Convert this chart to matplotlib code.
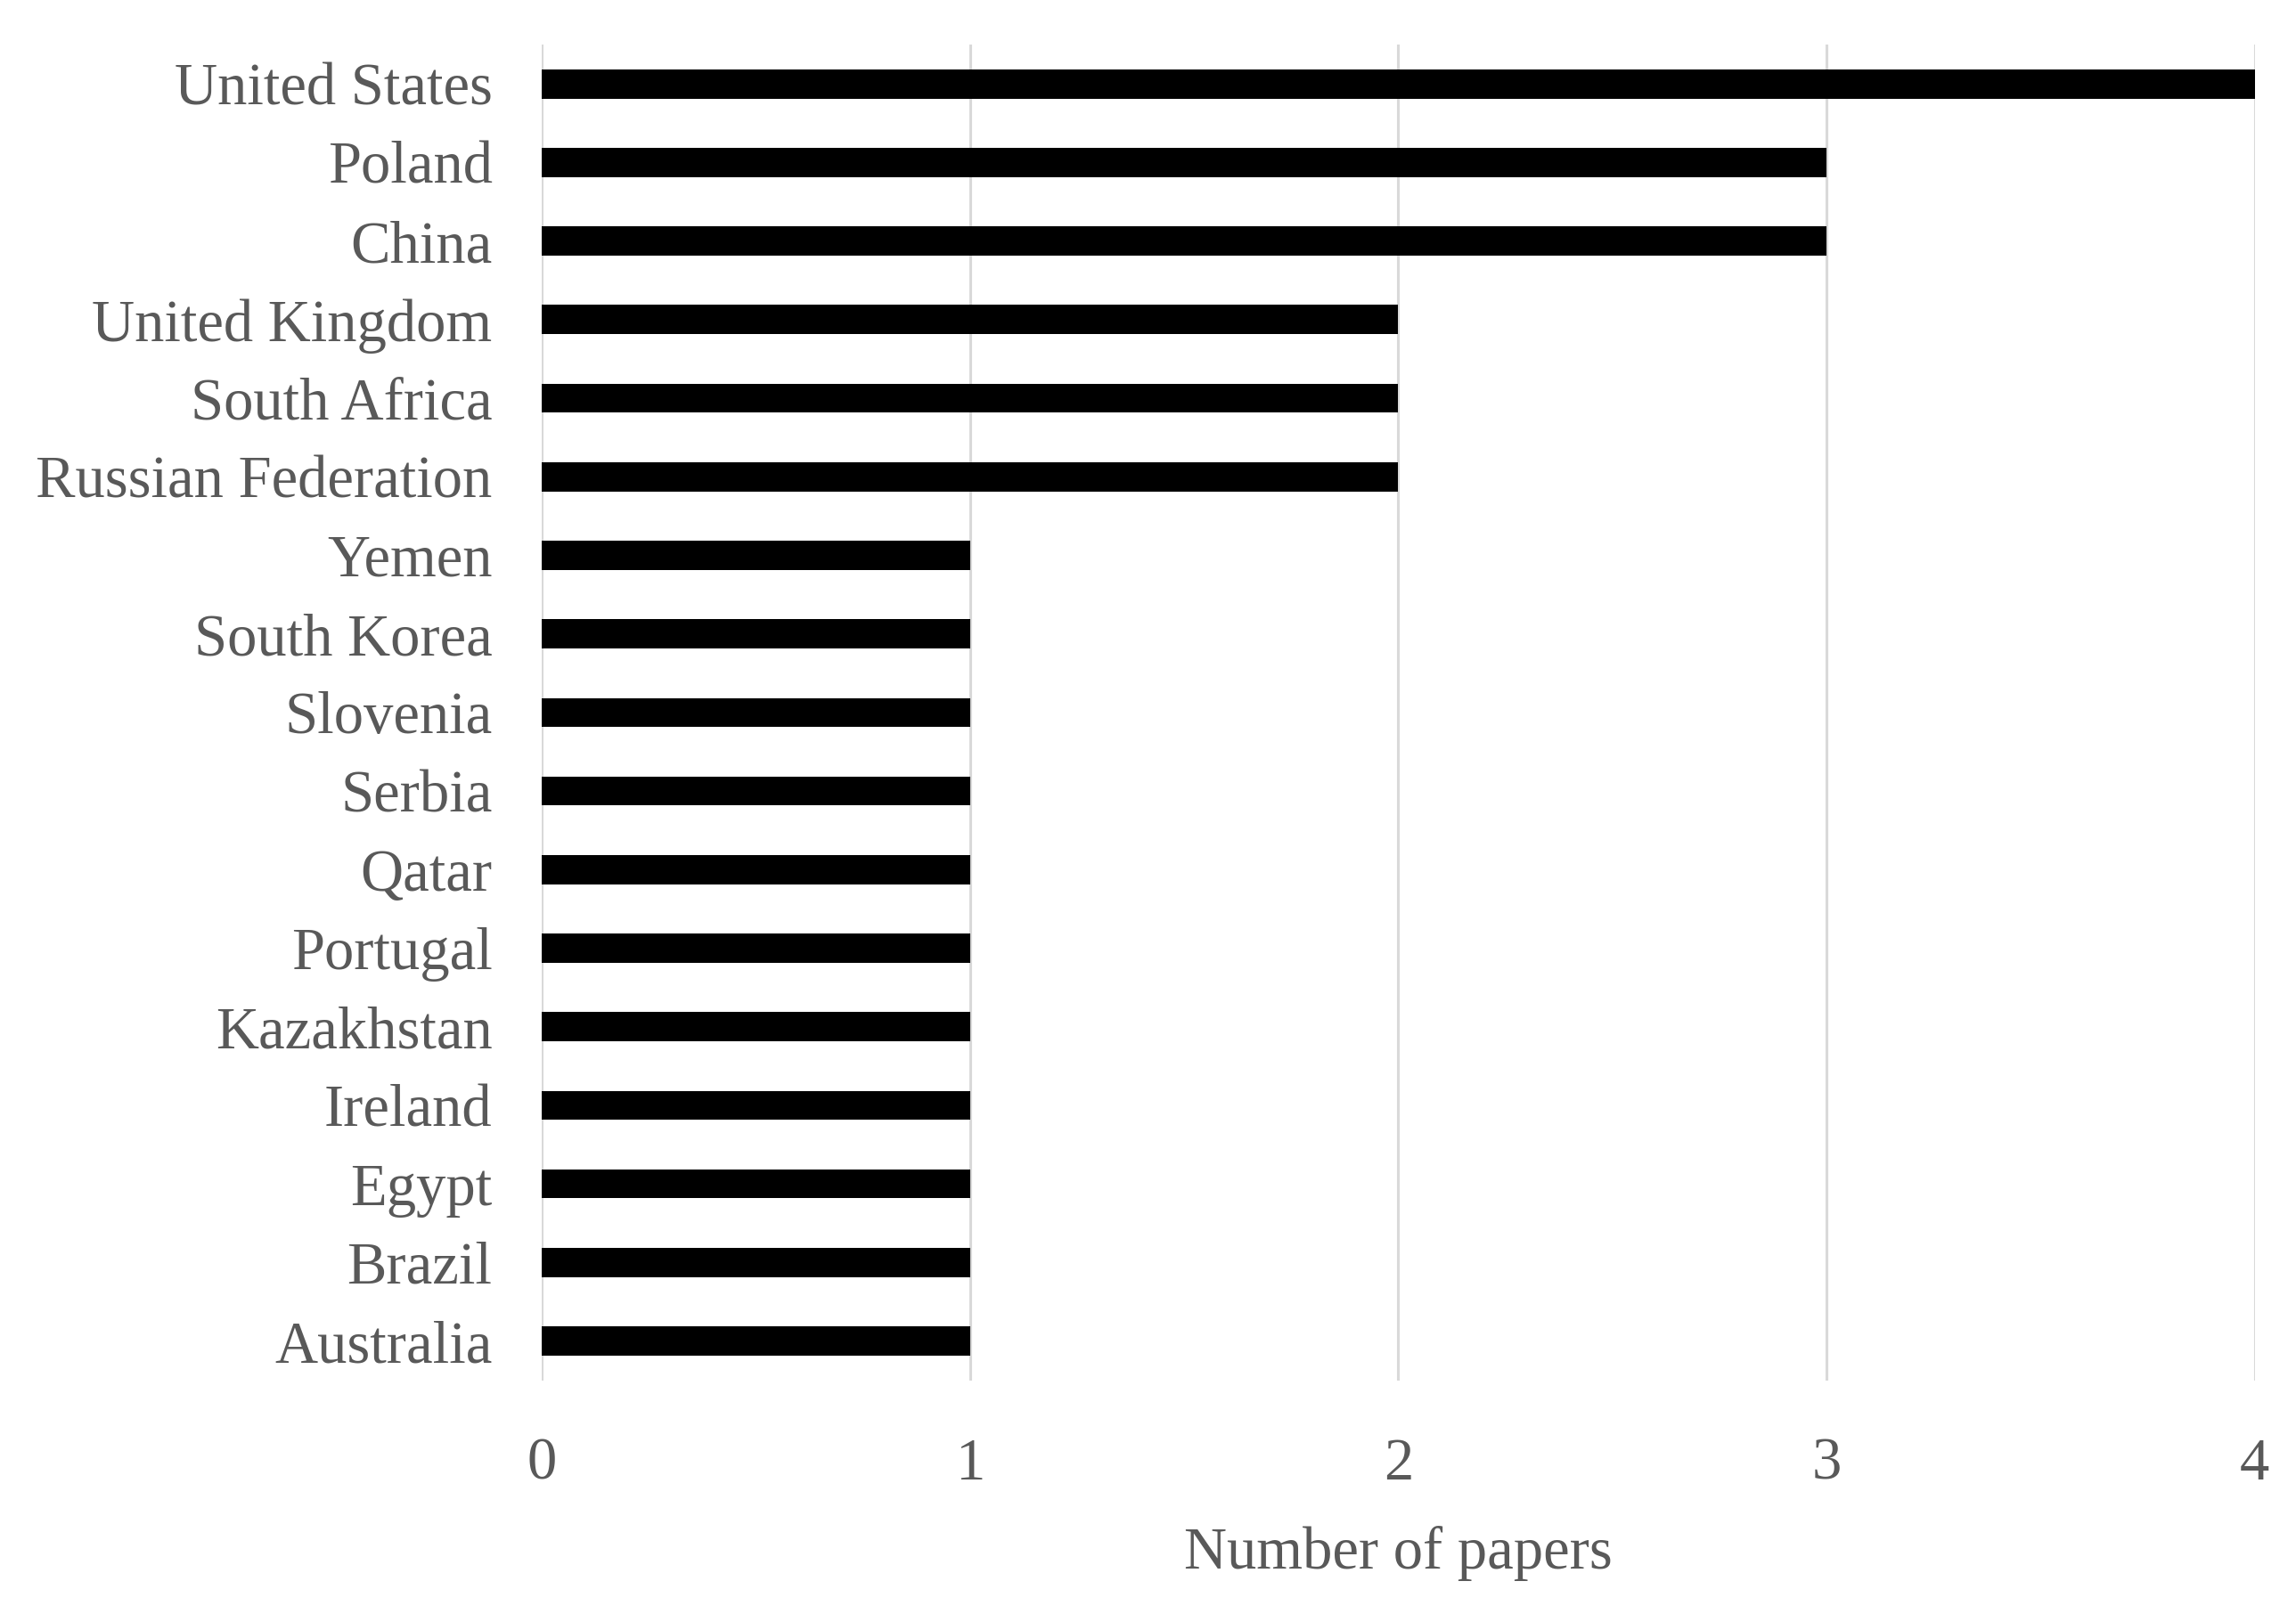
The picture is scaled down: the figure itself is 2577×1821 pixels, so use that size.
import matplotlib.pyplot as plt
import numpy as np

countries = ['United States', 'Poland', 'China', 'United Kingdom', 'South Africa',
             'Russian Federation', 'Yemen', 'South Korea', 'Slovenia', 'Serbia',
             'Qatar', 'Portugal', 'Kazakhstan', 'Ireland', 'Egypt', 'Brazil', 'Australia']
papers = [4, 3, 3, 2, 2, 2, 1, 1, 1, 1, 1, 1, 1, 1, 1, 1, 1]
xticks = [0, 1, 2, 3, 4]

plt.rcParams['font.family'] = ['Liberation Serif', 'DejaVu Serif']
text_color = '#595959'

fig = plt.figure(figsize=(25.77, 18.21), dpi=100)
ax = fig.add_axes([0.236, 0.149, 0.746, 0.8235])

y = np.arange(len(countries))
ax.barh(y, papers, height=0.37, color='black', zorder=3)

ax.set_ylim(len(countries) - 0.5, -0.5)
ax.set_xlim(0, 4)
ax.set_yticks(y)
ax.set_yticklabels(countries)
ax.set_xticks(xticks)
ax.set_xticklabels([str(t) for t in xticks])

ax.grid(axis='x', color='#d9d9d9', linewidth=2.2, zorder=0)
ax.grid(axis='y', visible=False)
for s in ax.spines.values():
    s.set_visible(False)

ax.tick_params(axis='y', length=0, pad=40, labelsize=48, labelcolor=text_color)
ax.tick_params(axis='x', length=0, pad=46, labelsize=48, labelcolor=text_color)
ax.set_xlabel('Number of papers', fontsize=48, color=text_color, labelpad=28)

fig.savefig('out.png', dpi=100)
